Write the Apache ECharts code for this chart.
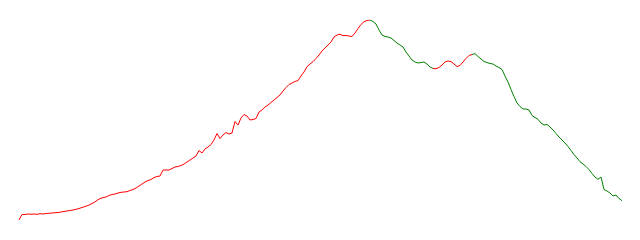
<!DOCTYPE html>
<html>
<head>
<meta charset="utf-8">
<script src="https://cdn.jsdelivr.net/npm/echarts@6/dist/echarts.min.js"></script>
<style>
html,body{margin:0;padding:0;background:#fff;}
#chart{width:640px;height:240px;}
</style>
</head>
<body>
<div id="chart"></div>
<script>
// Series values (one value per sample)
var values = [
 20, 25.5, 25.5, 26, 25.7, 26, 25.7, 26.3, 26, 26.5,
 26.7, 27, 27.3, 27.5, 28, 28.5, 29, 29.5, 30, 30.7,
 31.5, 32.5, 33.5, 34.5, 36, 37.5, 39.5, 41.5, 42.3, 43,
 44.5, 45.5, 46, 47, 47.7, 48, 48.3, 49.5, 50.5, 52,
 54, 56, 58, 59.5, 60.5, 62.5, 63.5, 64, 70, 70,
 70, 71.5, 73, 73.5, 74.5, 76, 78, 80, 82, 84,
 89.5, 87, 91, 93, 95.5, 100, 106.5, 101.5, 105, 107.5,
 106, 107, 118.5, 115, 122, 125.5, 124, 120, 120.5, 121.5,
 128, 130, 133, 135, 137.5, 140, 142.5, 145, 149, 152.5,
 155.5, 157, 158.5, 159.5, 164, 168, 173.3, 176, 178.3, 181.5,
 185, 189, 192, 195, 198, 203, 205, 205.7, 204.3, 204.5,
 204, 203.5, 207, 211.5, 215.5, 218.3, 219.5, 220, 218.5, 216,
 210, 205, 203.5, 203, 202, 199.5, 197, 195, 193, 188,
 184, 180, 178, 177, 177.5, 178, 176, 173, 171.5, 171.3,
 172.5, 175, 178, 179, 178.5, 176, 173.5, 174.5, 178, 181.5,
 184.5, 185.5, 186.3, 183.5, 181, 178.5, 177.5, 176.5, 176, 174,
 172.5, 170.5, 164, 158, 150.5, 143.5, 137, 133.5, 131, 131,
 130, 124.5, 122.5, 120.7, 117, 115, 115.5, 113, 110, 106.5,
 103, 100, 97, 93.5, 89.5, 85.5, 82, 78.3, 76, 73.5,
 70.5, 66.5, 63, 60.7, 63, 50.5, 49, 47, 44, 45,
 41.5, 39.3
];
// Category labels (sample index)
var categories = values.map(function (_, i) { return String(i); });
// Colour sections by sample index
var sectionBreaks = [117, 138, 151];
var sectionColors = ['red', 'green', 'red', 'green'];

var pieces = [
  { lte: sectionBreaks[0], color: sectionColors[0] },
  { gt: sectionBreaks[0], lte: sectionBreaks[1], color: sectionColors[1] },
  { gt: sectionBreaks[1], lte: sectionBreaks[2], color: sectionColors[2] },
  { gt: sectionBreaks[2], color: sectionColors[3] }
];

var chart = echarts.init(document.getElementById('chart'), null, { renderer: 'canvas' });
chart.setOption({
  animation: false,
  grid: { left: 19, right: 18, top: 20, bottom: 20, containLabel: false },
  xAxis: { type: 'category', data: categories, boundaryGap: false, show: false },
  yAxis: { type: 'value', min: 'dataMin', max: 'dataMax', show: false },
  visualMap: { show: false, type: 'piecewise', dimension: 0, pieces: pieces },
  series: [{
    type: 'line',
    data: values,
    showSymbol: false,
    symbol: 'none',
    lineStyle: { width: 1 }
  }]
});
</script>
</body>
</html>
